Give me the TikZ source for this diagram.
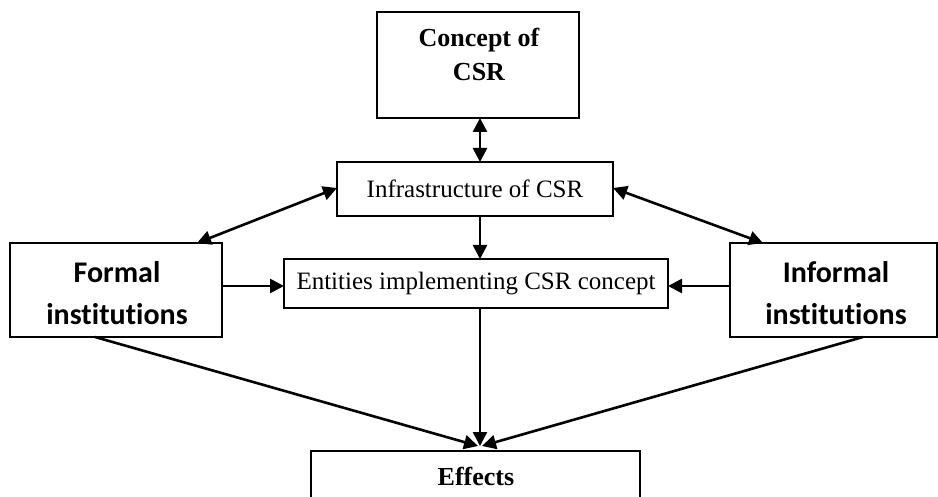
\documentclass[tikz,border=0pt]{standalone}
\usepackage{fontspec}
\setmainfont{Liberation Serif}
\newfontfamily\carlitofont[Ligatures={NoCommon,NoRare}]{Carlito}
\usetikzlibrary{arrows.meta}
\tikzset{
  box/.style={draw=black, line width=1.6pt, fill=white, inner sep=0pt, outer sep=0pt, align=center},
  serifreg/.style={font=\fontsize{25}{32}\selectfont},
  serifbold/.style={font=\fontsize{26}{34}\selectfont\bfseries},
  sansbold/.style={font=\carlitofont\fontsize{30}{42}\selectfont\bfseries},
  tipshape/.style={},
  arr/.style={line width=2.6pt, -{Triangle[length=14pt,width=14pt]}},
  darr/.style={line width=2.6pt, {Triangle[length=14pt,width=14pt]}-{Triangle[length=14pt,width=14pt]}}
}
\begin{document}
\begin{tikzpicture}[x=1pt,y=-1pt]
\useasboundingbox (0,0) rectangle (938,497);
\clip (0,0) rectangle (938,497);
\fill[white] (0,0) rectangle (938,497);
% boxes
\node[box, minimum width=202pt, minimum height=106pt] (concept) at (478,65) {};
\node[serifbold, align=center, inner sep=0pt] (conceptText) at (479,54) {Concept of\\CSR};
\node[box, serifreg, minimum width=276pt, minimum height=54pt] (infra) at (475,189) {Infrastructure of CSR};
\node[box, serifreg, minimum width=384pt, minimum height=49pt] (ent) at (476,283.5) {Entities implementing CSR concept};
\node[box, minimum width=212pt, minimum height=94pt] (formal) at (116,290) {};
\node[sansbold, align=center, inner sep=0pt] (formalText) at (117,293) {Formal\\institutions};
\node[box, minimum width=207pt, minimum height=94pt] (informal) at (833.5,290) {};
\node[sansbold, align=center, inner sep=0pt] (informalText) at (836,293) {Informal\\institutions};
\node[box, minimum width=329pt, minimum height=79pt] (effects) at (475.5,490.5) {};
\node[serifbold, inner sep=0pt] (effectsText) at (476,476) {Effects};
\coordinate (meet) at (480,446);
% connectors
\draw[darr] (concept.south -| 480,0) -- (infra.north -| 480,0);
\draw[darr] (infra.west |- 0,188) -- (formal.north -| 197,0);
\draw[darr] (infra.east |- 0,188) -- (informal.north -| 763,0);
\draw[arr] (infra.south -| 480,0) -- (ent.north -| 480,0);
\draw[arr] (formal.east |- 0,286) -- (ent.west |- 0,286);
\draw[arr] (informal.west |- 0,286) -- (ent.east |- 0,286);
\draw[arr] (formal.south -| 95,0) -- ([xshift=-2pt]meet);
\draw[arr] (ent.south -| 480,0) -- (meet);
\draw[arr] (informal.south -| 863,0) -- ([xshift=2pt]meet);
\end{tikzpicture}
\end{document}
